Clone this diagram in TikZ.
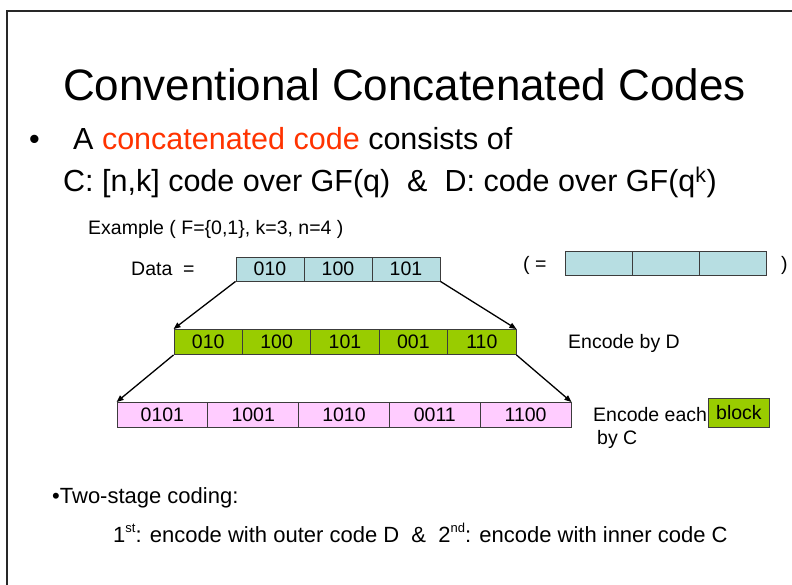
\documentclass[tikz,border=0pt]{standalone}
\usepackage{fontspec}
\setmainfont{Liberation Sans}
\usetikzlibrary{arrows.meta}
\definecolor{datacyan}{RGB}{183,222,226}
\definecolor{outergreen}{RGB}{153,204,0}
\definecolor{innerpink}{RGB}{255,204,255}
\definecolor{keyred}{RGB}{255,51,0}
\definecolor{cellgray}{RGB}{60,60,60}
\definecolor{framegray}{RGB}{40,40,40}
\newcommand{\supsmall}[1]{\raisebox{0.45em}{\fontsize{13}{14}\selectfont #1}}

\begin{document}
\begin{tikzpicture}[
  x=1pt,
  y=-1pt,
  title text/.style={
    anchor=base west,
    inner sep=0pt,
    font=\fontsize{44}{50}\selectfont
  },
  bullet text/.style={
    anchor=base west,
    inner sep=0pt,
    font=\fontsize{30.5}{36}\selectfont
  },
  small text/.style={
    anchor=base west,
    inner sep=0pt,
    font=\fontsize{19.5}{23}\selectfont
  },
  note text/.style={
    anchor=base west,
    inner sep=0pt,
    font=\fontsize{22}{26}\selectfont
  },
  cell/.style={
    draw=cellgray,
    line width=0.9pt,
    inner sep=0pt,
    minimum height=24pt,
    font=\fontsize{19.5}{23}\selectfont
  },
  data cell/.style={cell, fill=datacyan, minimum width=68pt},
  outer cell/.style={cell, fill=outergreen, minimum width=68.4pt, minimum height=25pt},
  inner cell/.style={cell, fill=innerpink, minimum width=90.8pt, minimum height=25pt},
  map arrow/.style={
    draw=black,
    line width=1.3pt,
    -{Triangle[length=7pt,width=5.5pt]}
  }
]

\useasboundingbox (0,0) rectangle (792,585);

% slide frame (only the left and top edges are inside the page)
\draw[framegray, line width=2pt] (7,585) -- (7,11) -- (792,11);

\node[title text] (title) at (63,101) {Conventional Concatenated Codes};

\node[bullet text] (bullet) at (29,150) {\textbullet};
\node[bullet text] (line-a) at (73,150)
  {A \textcolor{keyred}{concatenated code} consists of};
\node[bullet text] (line-b) at (63,192)
  {C: [n,k] code over GF(q) \ \& \ D: code over GF(q\textsuperscript{k})};

\node[small text] (example) at (88,235) {Example ( F=\{0,1\}, k=3, n=4 )};

% data: k-bit symbols
\node[small text] (data-label) at (131,276) {Data \ =};
\foreach \i/\bits in {1/010,2/100,3/101}{
  \node[data cell] (data-\i) at ({236+68*(\i-0.5)},269) {\bits};
}

% the same data seen as symbols of GF(q^k)
\node[small text] (same-open) at (523,271) {( =};
\foreach \i in {1,2,3}{
  \node[data cell, minimum width=67.3pt] (sym-\i) at ({565+67.3*(\i-0.5)},263) {};
}
\node[small text] (same-close) at (781,271) {)};

% outer code D
\foreach \i/\bits in {1/010,2/100,3/101,4/001,5/110}{
  \node[outer cell] (outer-\i) at ({174+68.4*(\i-0.5)},342) {\bits};
}
\node[small text] (outer-label) at (568,348) {Encode by D};

% inner code C
\foreach \i/\bits in {1/0101,2/1001,3/1010,4/0011,5/1100}{
  \node[inner cell] (inner-\i) at ({117+90.8*(\i-0.5)},415) {\bits};
}
\node[small text] (inner-label) at (593,421) {Encode each};
\node[cell, fill=outergreen, minimum width=61pt, minimum height=29pt,
  anchor=west] (block) at (708,413) {block};
\node[small text] (inner-label-b) at (597,444) {by C};

\draw[map arrow] (data-1.south west) -- (outer-1.north west);
\draw[map arrow] (data-3.south east) -- (outer-5.north east);
\draw[map arrow] (outer-1.south west) -- (inner-1.north west);
\draw[map arrow] (outer-5.south east) -- (inner-5.north east);

\node[note text] (stages) at (52,503) {\textbullet Two-stage coding:};
\node[note text] (stages-b) at (113,542)
  {1\supsmall{st}: encode with outer code D \ \& \ 2\supsmall{nd}: encode with inner code C};

\end{tikzpicture}
\end{document}
